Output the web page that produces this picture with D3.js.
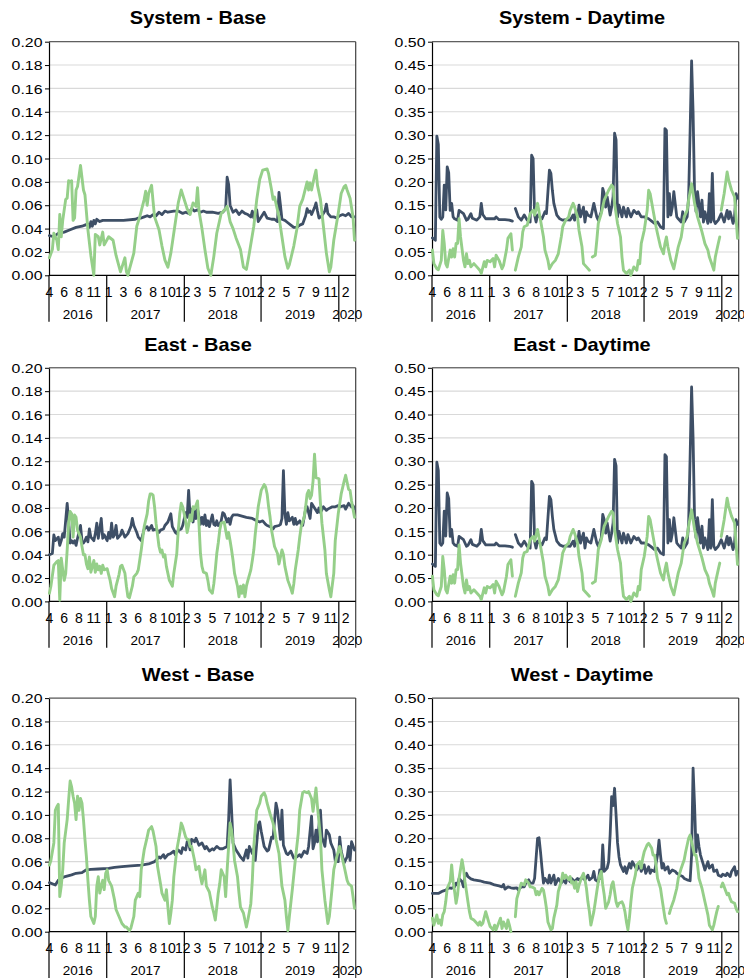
<!DOCTYPE html>
<html><head><meta charset="utf-8">
<script src="https://cdn.jsdelivr.net/npm/d3@7"></script>
<style>
body{margin:0;background:#fff}
svg{display:block}
text{font-family:"Liberation Sans",Arial,sans-serif;fill:#000}
</style>
</head><body>
<svg id="chart" width="744" height="979"></svg>
<script>
// ---------------- DATA ----------------
// x categories are weekly (week index 0 = first week of April 2016)
const monthTickWeeks  = [0,10,20,30,40,50,60,70,80,90,100,110,120,130,140,150,160,170,180,190,200];
const monthTickLabels = ["4","6","8","11","1","3","6","8","10","12","3","5","7","10","12","2","5","7","9","11","2"];
const yearLabels      = ["2016","2017","2018","2019","2020"];
const yearBreakWeeks  = [38.7, 91.1, 142.9, 195.4];
const lastWeek        = 206.8;
const baseTicks = [0,0.02,0.04,0.06,0.08,0.10,0.12,0.14,0.16,0.18,0.20];
const dayTicks  = [0,0.05,0.10,0.15,0.20,0.25,0.30,0.35,0.40,0.45,0.50];

const sysBaseNavy = [[0,.034],[3,.033],[6,.036],[10,.037],[14,.039],[18,.041],[22,.042],[24,.043],[26,.044],[27,.041],[28,.046],[29,.042],[30,.047],[31,.044],[32,.048],[34,.046],[36,.047],[40,.047],[50,.047],[58,.048],[60,.049],[62,.049],[64,.050],[66,.051],[68,.050],[70,.052],[72,.051],[74,.054],[76,.052],[78,.055],[80,.054],[84,.055],[87,.055],[90,.053],[92,.054],[94,.053],[96,.057],[98,.055],[100,.056],[102,.054],[104,.055],[106,.054],[110,.054],[114,.053],[117,.054],[119,.057],[120,.084],[121,.078],[122,.060],[124,.054],[126,.056],[128,.052],[130,.055],[132,.053],[134,.052],[136,.050],[137,.055],[138,.049],[140,.056],[141,.046],[143,.050],[145,.054],[147,.049],[150,.048],[152,.048],[154,.046],[155,.071],[156,.060],[157,.048],[159,.047],[161,.045],[163,.043],[165,.041],[167,.041],[169,.043],[171,.044],[173,.051],[174,.057],[175,.054],[176,.055],[177,.052],[179,.058],[180,.062],[181,.055],[182,.049],[184,.051],[186,.055],[187,.061],[188,.053],[190,.050],[192,.050],[194,.049],[196,.051],[198,.052],[200,.051],[202,.053],[204,.050],[206,.050]];
const sysBaseGreen = [[0,.015],[2,.022],[3,.036],[5,.030],[6,.022],[7,.052],[8,.033],[9,.047],[11,.065],[12,.066],[13,.081],[14,.080],[15,.081],[16,.047],[17,.049],[18,.073],[19,.076],[21,.094],[23,.073],[24,.069],[26,.039],[28,.017],[30,.000],[31,.035],[33,.033],[34,.026],[36,.037],[37,.026],[40,.033],[43,.030],[45,.017],[48,.003],[49,.007],[51,.015],[52,.003],[53,.000],[54,.005],[57,.019],[59,.042],[61,.050],[63,.060],[64,.065],[65,.072],[66,.060],[67,.070],[69,.077],[70,.063],[71,.050],[74,.039],[76,.025],[78,.013],[80,.007],[82,.019],[85,.045],[87,.062],[89,.073],[90,.069],[93,.057],[95,.052],[97,.062],[99,.059],[100,.075],[101,.055],[103,.040],[105,.022],[107,.006],[109,.000],[111,.016],[113,.036],[116,.053],[119,.057],[120,.059],[122,.046],[124,.040],[126,.032],[129,.022],[131,.007],[133,.005],[135,.019],[138,.042],[140,.065],[142,.082],[144,.090],[147,.091],[148,.087],[150,.073],[151,.065],[152,.067],[155,.050],[157,.033],[159,.016],[161,.006],[162,.009],[165,.025],[167,.039],[169,.059],[171,.065],[172,.070],[174,.080],[175,.073],[176,.079],[177,.073],[179,.085],[180,.090],[181,.077],[183,.065],[185,.042],[187,.019],[189,.003],[190,.007],[192,.030],[195,.053],[197,.070],[199,.076],[200,.077],[201,.073],[203,.066],[205,.050],[206,.030]];

const sysDayNavy = [[0,.08],[2,.075],[3,.298],[4,.28],[5,.125],[6,.12],[7,.125],[8,.193],[9,.14],[10,.232],[11,.22],[12,.139],[13,.154],[14,.125],[15,.121],[17,.118],[18,.139],[21,.132],[23,.118],[24,.12],[26,.132],[27,.122],[30,.118],[32,.125],[33,.154],[34,.13],[36,.121],[39,.121],[42,.121],[43,.125],[45,.119],[49,.119],[52,.118],[54,.116],[55,null],[56,.143],[58,.125],[60,.118],[62,.129],[64,.118],[66,.114],[67,.257],[68,.25],[69,.129],[70,.114],[71,.129],[74,.121],[76,.136],[77,.132],[79,.225],[80,.218],[81,.182],[82,.154],[84,.129],[86,.121],[88,.118],[90,.119],[93,.118],[95,.129],[96,.118],[97,.136],[98,.125],[99,.150],[100,.125],[102,.146],[103,.114],[104,.136],[105,.129],[107,.125],[109,.154],[111,.125],[112,.118],[114,.136],[115,.186],[116,.175],[117,.146],[118,.168],[120,.129],[121,.146],[122,.168],[123,.304],[124,.29],[125,.125],[126,.150],[128,.125],[129,.146],[131,.125],[132,.143],[134,.125],[136,.139],[138,.132],[139,.136],[141,.125],[143,.125],[146,.121],[148,.116],[150,.111],[152,.114],[154,.104],[156,.10],[157,.314],[158,.31],[159,.125],[160,.175],[161,.129],[162,.146],[163,.179],[165,.125],[166,.121],[168,.114],[169,.136],[170,.114],[172,.125],[173,.168],[174,.31],[175,.459],[176,.35],[177,.175],[178,.136],[179,.179],[181,.125],[182,.161],[183,.114],[184,.136],[186,.111],[187,.175],[188,.114],[189,.218],[190,.118],[191,.111],[193,.118],[194,.125],[195,.132],[197,.114],[199,.139],[200,.121],[201,.136],[203,.111],[204,.125],[205,.175],[206,.165]];
const sysDayGreen = [[0,.054],[1,.025],[3,.014],[4,.012],[6,.032],[7,.096],[8,.068],[9,.025],[10,.018],[12,.054],[13,.039],[14,.057],[15,.039],[16,.068],[17,.068],[18,.121],[19,.082],[21,.032],[22,.018],[23,.046],[24,.025],[25,.032],[26,.018],[28,.025],[30,.018],[32,.011],[33,.004],[35,.029],[36,.018],[37,.032],[39,.029],[41,.036],[42,.018],[43,.043],[45,.032],[47,.014],[48,.021],[50,.054],[51,.079],[53,.089],[54,.054],[55,null],[56,.011],[58,.039],[60,.061],[61,.093],[62,.104],[64,.107],[66,.132],[68,.139],[69,.129],[71,.154],[73,.118],[75,.082],[76,.054],[78,.032],[79,.014],[81,.025],[83,.032],[85,.046],[87,.082],[88,.104],[90,.118],[92,.125],[93,.139],[95,.154],[96,.146],[98,.125],[99,.096],[101,.061],[102,.025],[104,.018],[106,.011],[107,null],[108,.039],[110,.043],[111,.075],[112,.111],[114,.132],[116,.161],[119,.182],[121,.193],[122,.189],[123,.154],[125,.111],[127,.082],[128,.039],[129,.011],[131,.004],[133,.011],[134,.000],[136,.018],[138,.011],[139,.032],[140,.025],[141,.068],[143,.096],[145,.139],[146,.182],[147,.175],[149,.139],[151,.104],[152,.089],[154,.061],[156,.046],[157,.068],[158,.082],[159,.061],[161,.032],[163,.014],[166,.061],[168,.082],[170,.125],[172,.139],[173,.161],[175,.196],[176,.175],[177,.154],[179,.125],[181,.104],[182,.093],[184,.068],[186,.054],[187,.039],[189,.021],[190,.011],[191,.039],[193,.068],[194,.082],[194.5,null],[195,.139],[197,.175],[199,.221],[200,.204],[202,.182],[204,.168],[205,.125],[206,.079]];

const eastBaseNavy = [[0,.040],[2,.041],[3,.057],[4,.052],[6,.055],[7,.048],[8,.052],[9,.058],[10,.055],[12,.084],[13,.069],[14,.050],[15,.052],[16,.050],[17,.052],[18,.048],[19,.054],[21,.065],[22,.052],[23,.050],[24,.052],[25,.055],[26,.051],[27,.062],[28,.055],[30,.052],[31,.058],[32,.067],[33,.054],[34,.062],[35,.071],[36,.054],[37,.057],[39,.052],[40,.059],[41,.054],[42,.067],[43,.055],[44,.057],[45,.065],[46,.054],[48,.057],[49,.061],[51,.055],[53,.058],[55,.064],[56,.071],[57,.065],[59,.059],[60,.055],[62,.052],[64,.062],[66,.064],[67,.061],[69,.065],[70,.061],[72,.062],[74,.059],[75,.061],[77,.062],[78,.065],[80,.068],[82,.075],[83,.064],[85,.059],[86,.058],[87,.061],[89,.062],[90,.065],[92,.076],[93,.072],[94,.095],[95,.072],[96,.079],[97,.068],[98,.078],[99,.071],[100,.079],[102,.066],[103,.072],[104,.066],[105,.074],[106,.065],[107,.069],[108,.064],[110,.074],[111,.066],[112,.065],[113,.069],[114,.065],[115,.066],[116,.069],[117,.076],[118,.075],[120,.068],[121,.071],[122,.066],[123,.072],[124,.074],[127,.074],[130,.073],[133,.072],[137,.071],[140,.069],[142,.068],[144,.069],[146,.066],[147,.065],[149,.064],[151,.062],[152,.064],[155,.065],[156,.066],[157,.071],[158,.112],[159,.075],[160,.066],[161,.076],[162,.069],[164,.072],[165,.066],[166,.071],[167,.066],[169,.069],[170,.066],[171,.065],[173,.079],[174,.081],[176,.071],[177,.084],[179,.080],[181,.076],[182,.080],[183,.076],[185,.081],[187,.078],[188,.079],[191,.081],[193,.081],[195,.082],[196,.081],[199,.082],[200,.079],[202,.084],[204,.081],[205,.082],[206,.079]];
const eastBaseGreen = [[0,.007],[1,.013],[3,.031],[5,.034],[6,.035],[7,.001],[8,.037],[9,.027],[10,.018],[11,.024],[12,.044],[13,.067],[14,.077],[15,.075],[16,.055],[17,.074],[18,.072],[19,.061],[21,.055],[22,.047],[23,.040],[24,.040],[25,.032],[26,.028],[27,.038],[28,.025],[30,.035],[31,.025],[32,.032],[33,.027],[34,.030],[35,.024],[36,.031],[37,.027],[39,.028],[40,.023],[41,.018],[42,.011],[44,.004],[45,.013],[47,.023],[48,.030],[49,.031],[51,.024],[52,.013],[53,.004],[54,.003],[56,.013],[57,.021],[59,.024],[60,.027],[62,.044],[64,.064],[66,.075],[67,.086],[68,.092],[69,.092],[70,.091],[71,.081],[72,.067],[74,.047],[75,.042],[76,.044],[77,.038],[78,.040],[79,.030],[81,.018],[83,.013],[84,.024],[86,.041],[87,.061],[88,.075],[89,.084],[90,.081],[92,.069],[93,.059],[94,.065],[95,.074],[96,.069],[97,.081],[98,.079],[100,.086],[101,.066],[102,.041],[103,.030],[104,.025],[106,.024],[107,.018],[108,.010],[110,.007],[111,.015],[112,.027],[113,.041],[114,.050],[115,.061],[116,.067],[118,.068],[119,.061],[120,.054],[121,.059],[122,.052],[123,.044],[124,.035],[125,.024],[127,.013],[128,.004],[129,.013],[130,.007],[131,.014],[132,.004],[133,.013],[134,.018],[136,.027],[137,.035],[138,.044],[139,.058],[140,.069],[141,.081],[143,.095],[145,.100],[146,.098],[147,.092],[148,.081],[149,.072],[150,.061],[152,.047],[154,.041],[155,.032],[156,.038],[157,.044],[158,.040],[159,.030],[161,.018],[163,.011],[164,.007],[165,.015],[166,.027],[168,.044],[169,.055],[170,.064],[172,.072],[173,.081],[174,.092],[175,.095],[176,.088],[177,.091],[178,.103],[179,.126],[180,.106],[182,.105],[183,.084],[184,.067],[186,.044],[187,.024],[189,.010],[190,.004],[192,.024],[193,.052],[195,.075],[197,.092],[199,.103],[200,.108],[201,.102],[202,.096],[203,.095],[204,.086],[206,.072]];

// East - Daytime reads the same as System - Daytime in the picture
const eastDayNavy  = sysDayNavy;
const eastDayGreen = sysDayGreen;

const westBaseNavy = [[0,.042],[4,.040],[6,.044],[10,.047],[15,.0486],[18,.050],[22,.0506],[25,.053],[28,.0534],[33,.0537],[40,.0543],[44,.0551],[49,.0557],[55,.0563],[62,.057],[67,.058],[71,.060],[74,.064],[75,.063],[77,.066],[78,.063],[80,.066],[82,.067],[84,.069],[85,.066],[87,.070],[89,.067],[90,.072],[92,.070],[93,.077],[94,.076],[95,.070],[96,.079],[98,.077],[99,.080],[101,.074],[103,.076],[105,.071],[106,.073],[108,.069],[110,.071],[111,.070],[113,.073],[115,.071],[117,.071],[120,.073],[121,.096],[122,.130],[123,.104],[124,.076],[126,.070],[128,.066],[129,.064],[131,.061],[133,.070],[134,.063],[135,.073],[137,.067],[138,.071],[139,.061],[141,.091],[142,.094],[143,.086],[145,.073],[147,.069],[148,.070],[150,.081],[151,.080],[153,.110],[154,.104],[156,.079],[157,.104],[158,.074],[160,.067],[161,.066],[163,.069],[165,.063],[167,.064],[169,.066],[170,.064],[172,.069],[174,.067],[175,.073],[177,.099],[178,.071],[179,.076],[180,.087],[181,.077],[183,.104],[184,.081],[186,.073],[187,.087],[189,.083],[190,.076],[192,.070],[193,.061],[195,.060],[196,.081],[197,.069],[199,.059],[201,.064],[202,.073],[203,.061],[204,.077],[206,.070]];
const westBaseGreen = [[0,.057],[1,.061],[3,.076],[4,.104],[5,.107],[6,.109],[7,.030],[8,.039],[9,.053],[10,.076],[12,.096],[13,.113],[14,.129],[15,.124],[16,.116],[17,.110],[18,.096],[19,.116],[20,.104],[21,.114],[22,.110],[23,.096],[24,.079],[25,.064],[26,.044],[27,.027],[28,.013],[30,.007],[31,.013],[32,.039],[33,.047],[34,.033],[35,.039],[36,.044],[37,.036],[38,.050],[39,.053],[40,.044],[42,.039],[44,.027],[45,.019],[47,.013],[49,.007],[51,.004],[52,.004],[54,.001],[55,.003],[57,.013],[58,.027],[60,.033],[61,.030],[62,.053],[64,.070],[66,.081],[67,.087],[69,.090],[70,.086],[72,.073],[73,.056],[75,.041],[76,.033],[78,.027],[79,.036],[80,.021],[81,.007],[82,.016],[83,.027],[84,.047],[86,.070],[88,.084],[89,.093],[90,.090],[92,.081],[93,.079],[94,.079],[95,.073],[96,.073],[98,.061],[99,.053],[101,.056],[102,.047],[103,.041],[105,.053],[106,.039],[108,.034],[110,.021],[111,.016],[112,.010],[113,.021],[114,.033],[115,.041],[116,.053],[118,.047],[119,.030],[120,.053],[121,.073],[122,.093],[123,.087],[124,.076],[125,.061],[127,.047],[128,.033],[129,.021],[131,.016],[132,.010],[133,.004],[134,.010],[136,.024],[137,.044],[138,.073],[140,.104],[142,.110],[143,.116],[145,.119],[146,.116],[147,.110],[149,.101],[151,.093],[152,.087],[153,.079],[155,.067],[156,.053],[157,.039],[159,.027],[160,.013],[161,.001],[162,.013],[164,.036],[166,.061],[168,.084],[169,.104],[171,.119],[172,.120],[174,.119],[175,.120],[177,.114],[178,.103],[179,.113],[180,.123],[181,.107],[183,.081],[184,.053],[186,.027],[188,.007],[189,.013],[191,.039],[192,.053],[194,.064],[196,.073],[197,.067],[199,.056],[201,.044],[202,.041],[204,.039],[205,.030],[206,.020]];

const westDayNavy = [[0,.082],[4,.082],[7,.087],[9,.089],[11,.094],[13,.093],[15,.096],[16,.104],[17,.100],[18,.114],[20,.107],[21,.096],[22,.121],[23,.125],[24,.118],[26,.113],[28,.111],[32,.109],[35,.106],[39,.104],[42,.100],[45,.098],[47,.096],[48,.101],[49,.091],[51,.096],[53,.094],[55,.093],[57,.094],[58,.089],[60,.096],[62,.096],[63,.104],[65,.111],[66,.104],[68,.104],[69,.114],[71,.200],[72,.201],[73,.171],[74,.136],[75,.104],[76,.114],[78,.104],[79,.121],[80,.104],[82,.121],[83,.101],[85,.114],[87,.104],[88,.111],[90,.104],[91,.116],[93,.107],[94,.114],[96,.107],[98,.114],[99,.111],[101,.116],[103,.111],[105,.121],[106,.111],[108,.116],[109,.129],[110,.111],[112,.107],[113,.132],[114,.114],[115,.186],[116,.129],[118,.136],[119,.15],[120,.207],[121,.289],[122,.27],[123,.307],[124,.25],[125,.19],[126,.16],[127,.143],[128,.136],[129,.129],[130,.139],[131,.125],[132,.136],[133,.146],[134,.136],[135,.150],[137,.139],[138,.132],[140,.143],[141,.129],[143,.143],[144,.125],[146,.139],[147,.125],[148,.132],[150,.129],[152,.164],[153,.196],[154,.164],[155,.136],[156,.146],[157,.132],[159,.139],[160,.125],[162,.132],[164,.129],[165,.125],[167,.121],[169,.118],[170,.114],[172,.111],[174,.109],[175,.164],[176,.350],[177,.271],[178,.171],[179,.207],[180,.182],[181,.164],[183,.143],[184,.132],[186,.150],[187,.136],[189,.143],[190,.129],[192,.132],[193,.121],[195,.118],[196,.123],[198,.12],[199,.125],[201,.118],[202,.129],[204,.139],[205,.121],[206,.129]];
const westDayGreen = [[0,.029],[1,.014],[3,.036],[4,.018],[5,.025],[6,.014],[7,.036],[8,.043],[9,.064],[10,.093],[12,.107],[13,.143],[14,.107],[15,.086],[16,.061],[17,.079],[18,.114],[20,.154],[21,.136],[22,.107],[23,.086],[24,.064],[25,.043],[26,.029],[28,.025],[30,.018],[31,.014],[32,.021],[33,.014],[34,.018],[36,.043],[37,.032],[38,.021],[39,.011],[41,.004],[42,.014],[43,.004],[45,.021],[46,.029],[47,.007],[48,.021],[50,.007],[51,.025],[52,.014],[53,.000],[54,null],[56,.032],[57,.071],[59,.093],[60,.104],[62,.100],[63,.111],[65,.104],[66,.096],[67,.096],[69,.093],[70,.079],[71,.086],[72,.079],[74,.093],[75,.089],[76,.071],[77,.050],[78,.021],[80,.004],[81,.007],[82,.029],[84,.057],[85,.086],[87,.107],[88,.125],[89,.114],[90,.121],[92,.111],[93,.118],[94,.104],[95,.107],[96,.093],[97,.107],[98,.086],[99,.100],[101,.118],[102,.125],[103,.111],[104,.093],[105,.064],[106,.043],[107,.014],[109,.043],[110,.064],[111,.086],[112,.107],[113,.121],[114,.129],[115,.100],[116,.079],[117,.050],[119,.064],[120,.079],[121,.100],[122,.107],[123,.086],[124,.064],[125,.054],[126,.061],[128,.064],[129,.057],[130,.043],[131,.021],[132,.004],[133,.029],[134,.064],[135,.093],[137,.121],[138,.143],[140,.150],[141,.136],[142,.157],[143,.171],[145,.186],[146,.189],[148,.179],[149,.164],[150,.164],[151,.143],[152,.114],[154,.093],[155,.071],[156,.050],[157,.029],[158,.018],[158.8,null],[160,.039],[161,.050],[163,.068],[165,.093],[166,.114],[168,.136],[170,.154],[171,.171],[173,.200],[174,.207],[175,.193],[177,.164],[178,.164],[179,.143],[180,.114],[182,.093],[184,.064],[186,.036],[187,.014],[189,.004],[190,.014],[191,.029],[192,.043],[193,.054],[194,null],[195,.096],[196,.104],[197,.096],[199,.079],[200,.082],[201,.071],[202,.064],[204,.061],[205,.050],[206,.043]];

const panels = [
  {title:"System - Base",    col:0,row:0,yMax:0.20,ticks:baseTicks,navy:sysBaseNavy,  green:sysBaseGreen},
  {title:"System - Daytime", col:1,row:0,yMax:0.50,ticks:dayTicks, navy:sysDayNavy,   green:sysDayGreen},
  {title:"East - Base",      col:0,row:1,yMax:0.20,ticks:baseTicks,navy:eastBaseNavy, green:eastBaseGreen},
  {title:"East - Daytime",   col:1,row:1,yMax:0.50,ticks:dayTicks, navy:eastDayNavy,  green:eastDayGreen},
  {title:"West - Base",      col:0,row:2,yMax:0.20,ticks:baseTicks,navy:westBaseNavy, green:westBaseGreen},
  {title:"West - Daytime",   col:1,row:2,yMax:0.50,ticks:dayTicks, navy:westDayNavy,  green:westDayGreen}
];

// ---------------- LAYOUT / STYLE ----------------
const NAVY = "#3e4f66", GREEN = "#95cf89";
const PW = 306.7, PH = 233.6;
const colLeft = [49, 432];
const rowTop  = [41.7, 367.8, 698.1];
const titleX  = [198, 582];

const svg = d3.select("#chart");
const x = d3.scaleLinear().domain([0, lastWeek]).range([0.4, PW]);

panels.forEach(p => {
  const g = svg.append("g").attr("transform", `translate(${colLeft[p.col]},${rowTop[p.row]})`);
  const y = d3.scaleLinear().domain([0, p.yMax]).range([PH, 0]);

  // gridlines
  g.append("g").selectAll("line").data(p.ticks.slice(1)).join("line")
    .attr("x1", 0).attr("x2", PW)
    .attr("y1", d => y(d)).attr("y2", d => y(d))
    .attr("stroke", "#d9d9d9").attr("stroke-width", 1.1);

  // y axis
  const yAxis = d3.axisLeft(y).tickValues(p.ticks).tickFormat(d3.format(".2f")).tickSize(4).tickSizeOuter(0);
  const ya = g.append("g").call(yAxis);
  ya.select(".domain").attr("stroke", "#000").attr("stroke-width", 1.2);
  ya.selectAll(".tick line").attr("stroke", "#000");
  ya.selectAll(".tick text").remove();
  ya.selectAll(".tick").append("text")
    .attr("transform", "translate(-6.5,0) scale(1.22,1)")
    .attr("text-anchor", "end").attr("dy", "0.36em")
    .attr("font-size", "13px").attr("fill", "#000")
    .text(d => d3.format(".2f")(d));

  // top and right border
  g.append("line").attr("x1", 0).attr("x2", PW).attr("y1", 0).attr("y2", 0)
    .attr("stroke", "#404040").attr("stroke-width", 1);
  g.append("line").attr("x1", PW).attr("x2", PW).attr("y1", 0).attr("y2", PH + 46.4)
    .attr("stroke", "#404040").attr("stroke-width", 1.2);

  // x axis (multi-level category axis)
  g.append("line").attr("x1", 0).attr("x2", PW).attr("y1", PH).attr("y2", PH)
    .attr("stroke", "#000").attr("stroke-width", 1.3);
  const bounds = [0, ...yearBreakWeeks.map(w => x(w)), PW];
  g.append("g").selectAll("line").data(bounds.slice(0, -1)).join("line")
    .attr("x1", d => d).attr("x2", d => d)
    .attr("y1", PH).attr("y2", PH + 46.4)
    .attr("stroke", "#000").attr("stroke-width", 1.2);
  g.append("g").selectAll("text").data(monthTickWeeks).join("text")
    .attr("x", d => x(d)).attr("y", PH + 21.6)
    .attr("text-anchor", "middle").attr("font-size", "14px")
    .text((d, i) => monthTickLabels[i]);
  g.append("g").selectAll("text").data(yearLabels).join("text")
    .attr("x", (d, i) => (bounds[i] + bounds[i + 1]) / 2).attr("y", PH + 43.3)
    .attr("text-anchor", "middle").attr("font-size", "13.5px")
    .text(d => d);

  // series
  const line = d3.line().defined(d => d[1] != null).x(d => x(d[0])).y(d => y(d[1]));
  g.append("path").datum(p.navy).attr("d", line)
    .attr("fill", "none").attr("stroke", NAVY).attr("stroke-width", 2.8)
    .attr("stroke-linejoin", "round").attr("stroke-linecap", "round");
  g.append("path").datum(p.green).attr("d", line)
    .attr("fill", "none").attr("stroke", GREEN).attr("stroke-width", 2.9)
    .attr("stroke-linejoin", "round").attr("stroke-linecap", "round");

  // title
  svg.append("text")
    .attr("transform", `translate(${titleX[p.col]},${rowTop[p.row] - 17.3}) scale(1.14,1)`)
    .attr("text-anchor", "middle").attr("font-size", "17.5px").attr("font-weight", "bold")
    .text(p.title);
});
</script>
</body></html>
